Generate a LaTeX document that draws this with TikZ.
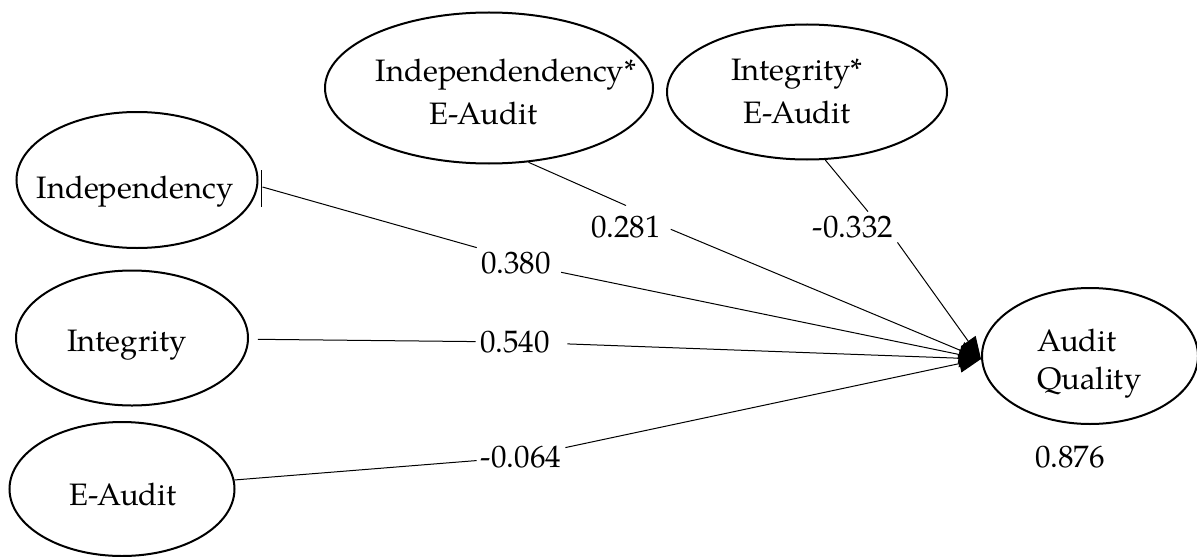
\documentclass[tikz,border=0pt]{standalone}
\usepackage{fontspec}
\setmainfont{TeX Gyre Pagella}
\usetikzlibrary{arrows.meta,shapes.geometric,calc}
\begin{document}
\begin{tikzpicture}[x=0.5pt,y=-0.5pt,
  lat/.style={draw,ellipse,line width=1pt,inner sep=0pt},
  txt/.style={inner sep=0pt,font=\fontsize{15.5}{21.5}\selectfont},
  coef/.style={inner sep=2pt,font=\fontsize{15.5}{19}\selectfont},
  link/.style={line width=0.5pt},
  arr/.style={line width=0.5pt,-{Triangle[length=11pt,width=9pt]}}
]
\useasboundingbox (0,0) rectangle (1197,556);

% latent variables
\node[lat,minimum width=120.5pt,minimum height=68pt] (ind) at (137,180) {};
\node[lat,minimum width=116pt,minimum height=67.5pt] (int) at (132,338) {};
\node[lat,minimum width=112.5pt,minimum height=67pt] (ea) at (122,489) {};
\node[lat,minimum width=164pt,minimum height=75.5pt] (iea) at (489,88) {};
\node[lat,minimum width=140pt,minimum height=67.5pt] (gea) at (807,92) {};
\node[lat,minimum width=108pt,minimum height=68pt] (aq) at (1090,356) {};

% texts
\node[txt] (indT) at (135,192) {Independency};
\node[txt] (intT) at (127,345) {Integrity};
\node[txt] (eaT) at (123,494) {E-Audit};
\node[txt,align=left] (ieaT) at (506,92) {Independendency*\\\hspace*{27pt}E-Audit};
\node[txt,align=center] (geaT) at (797,91) {Integrity*\\E-Audit};
\node[txt,align=left,anchor=west,font=\fontsize{15.5}{19}\selectfont] (aqT) at (1037,364) {Audit\\Quality};

% coefficients
\node[coef] (c380) at (516,263) {0.380};
\node[coef] (c281) at (626,227) {0.281};
\node[coef] (c332) at (853,227) {-0.332};
\node[coef] (c540) at (515,342) {0.540};
\node[coef] (c064) at (521,457) {-0.064};
\node[coef] (c876) at (1070,457) {0.876};

% helper points where the path segments end
\coordinate (indS) at ($(ind.east)+(4,7)$);
\coordinate (c281N) at ($(c281.north)+(0,-6)$);
\coordinate (c332N) at ($(c332.north)+(15,0)$);
\coordinate (tip) at ($(aq.west)+(0,3)$);

% paths
\draw[link] (indS) -- (c380.north west);
\draw[arr,shorten <=3pt] (c380) -- (tip);
\draw[link,shorten <=4.5pt] (int) -- (c540);
\draw[arr,shorten <=6.5pt] (c540) -- (tip);
\draw[link] (ea) -- (c064);
\draw[arr] (c064) -- (tip);
\draw[link] (iea.-62) -- (c281N);
\draw[arr,shorten <=3pt] (c281.east) -- (tip);
\draw[link] (gea.-75) -- (c332N);
\draw[arr] (c332.south east) -- (tip);

% small tick at the start of the Independency path
\draw[link] ($(ind.east)+(3,-10)$) -- ($(ind.east)+(3,27)$);
\end{tikzpicture}
\end{document}
